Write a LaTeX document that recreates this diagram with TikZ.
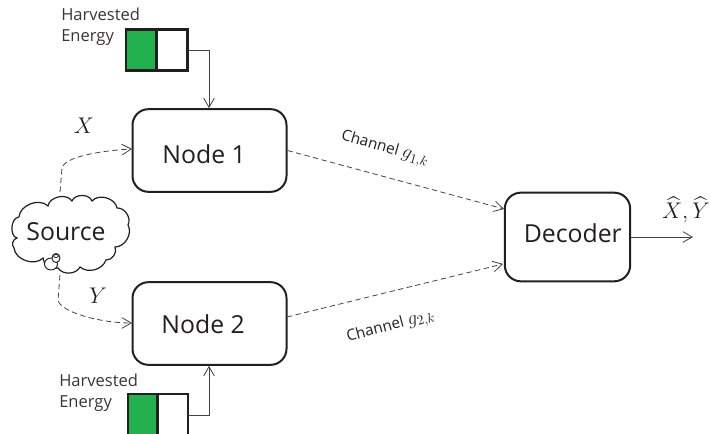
\RequirePackage{fix-cm}
\documentclass[tikz,border=0pt]{standalone}
\usepackage{fontspec}
\usepackage{amsmath}
\setmainfont{Open Sans}
\usetikzlibrary{arrows.meta}
\definecolor{bgreen}{HTML}{22B14C}
\definecolor{ink}{HTML}{231F20}
\newcommand{\textat}[3]{\smash{\raisebox{#2}{\makebox[0pt]{\hspace{#1}#3}}}}
\newcommand{\fs}[1]{\fontsize{#1}{#1}\selectfont}
\tikzset{
  x=0.75pt,y=-0.75pt,
  blockbox/.style={draw=ink,line width=1.5pt,rounded corners=12pt,fill=white,inner sep=0pt,text=ink,font=\fs{18.6}},
  battery/.style={draw=ink,line width=2pt,inner sep=0pt,minimum width=23.5pt},
  harvest/.style={align=left,anchor=north west,inner sep=0pt,font=\fontsize{12.4}{15.75}\selectfont,text=ink!90},
  link/.style={draw=ink!85,line width=0.6pt,-{Straight Barb[length=7pt,width=8pt,line width=0.6pt]}},
  dlink/.style={link,dash pattern=on 4pt off 2.6pt},
  chan/.style={font=\fs{11.5},text=ink,inner sep=0pt},
  mathlab/.style={font=\fs{17},text=ink,inner sep=0pt},
  cloudline/.style={draw=ink,line width=0.9pt,fill=white},
}
\begin{document}
\begin{tikzpicture}
\useasboundingbox (0,0) rectangle (710,434);
\clip (0,0) rectangle (710,434);

% blocks
\node[blockbox,minimum width=115.5pt,minimum height=62pt] (n1) at (209.5,150.5) {\textat{-8pt}{-9.6pt}{Node 1}};
\node[blockbox,minimum width=115.5pt,minimum height=62pt] (n2) at (209.5,323.5) {\textat{-9.5pt}{-7.2pt}{Node 2}};
\node[blockbox,minimum width=94pt,minimum height=66.5pt] (dec) at (567.5,237) {\textat{8pt}{-3.8pt}{Decoder}};

% batteries
\node[battery,fill=bgreen,minimum width=22.5pt,minimum height=31pt] (b1g) at (141,50) {};
\node[battery,fill=white,minimum width=23pt,minimum height=31pt] (b1w) at (172,50) {};
\node[battery,fill=bgreen,minimum width=22pt,minimum height=48pt] (b2g) at (142.5,426) {};
\node[battery,fill=white,minimum width=23pt,minimum height=48pt] (b2w) at (172.5,426) {};
\coordinate (b2out) at (188,415);

\node[harvest] (h1) at (61,8) {Harvested\\Energy};
\node[harvest] (h2) at (59,374) {Harvested\\Energy};

% source cloud
\draw[cloudline] (19,217) to[bend left=65] (48,206) to[bend left=70] (72,201)
  to[bend left=70] (92,201) to[bend left=65] (117,208) to[bend left=60] (128,225)
  to[bend left=60] (115,247) to[bend left=60] (106,260) to[bend left=55] (80,267)
  to[bend left=60] (58,268) to[bend left=55] (43,258) to[bend left=65] (14,248)
  to[bend left=65] (17,238) to[bend left=80] (19,217);
\node[font=\fs{18.6},text=ink,inner sep=0pt] (src) at (66,232) {Source};
\draw[cloudline,line width=0.7pt] (51,264) ellipse (6.5 and 6);
\draw[cloudline,line width=0.7pt] (56,258) ellipse (4 and 4.5);
\draw[cloudline,line width=0.6pt] (56,256) ellipse (2.5 and 1.5);

\coordinate (srcA) at (60,192);
\coordinate (srcB) at (60,275);
\coordinate (n1in) at (132,149);
\coordinate (n2in) at (132,323);
\coordinate (n2out) at (287,317);
\coordinate (decA) at (504,209);
\coordinate (decB) at (503,264);
\coordinate (outEnd) at (693,237);
\coordinate (in1) at (209,50);
\coordinate (in2) at (209,415);

% connectors
\draw[link] (b1w.east) -- (in1) -- (n1.north -| in1);
\draw[link] (b2out) -- (in2) -- (n2.south -| in2);
\draw[dlink] (srcA) -- (62,168) .. controls (64,158) and (95,151) .. (n1in);
\draw[dlink] (srcB) -- (58,300) .. controls (60,312) and (100,323) .. (n2in);
\draw[dlink] (n1.east) -- (decA);
\draw[dlink] (n2out) -- (decB);
\draw[link] (dec.east) -- (outEnd);

% labels
\node[chan,rotate=-16] (c1) at (385,149) {Channel {\fs{14.5}$g_{1,k}$}};
\node[chan,rotate=15] (c2) at (391,327) {Channel {\fs{14.5}$g_{2,k}$}};
\node[mathlab] (lx) at (84,126) {$X$};
\node[mathlab] (ly) at (98,296) {$Y$};
\node[mathlab] (lxy) at (686,210) {$\widehat{X},\widehat{Y}$};
\end{tikzpicture}
\end{document}
